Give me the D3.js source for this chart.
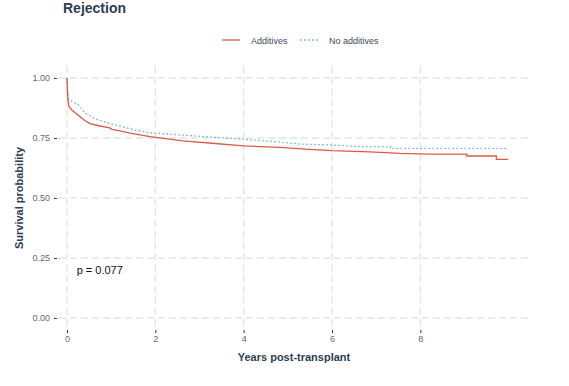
<!DOCTYPE html>
<html>
<head>
<meta charset="utf-8">
<script src="https://cdn.jsdelivr.net/npm/d3@7"></script>
<style>
  body { margin: 0; background: #fff; }
  svg { font-family: "Liberation Sans", Arial, sans-serif; }
</style>
</head>
<body>
<div class="chart"></div>
<script>
// survival curves: [years, probability]
const additives = [
    [0, 1.0], [0.01, 0.95], [0.02, 0.917], [0.045, 0.88], [0.11, 0.867], [0.25, 0.846],
    [0.39, 0.825], [0.52, 0.81], [0.75, 0.80], [0.97, 0.792], [1.02, 0.786], [1.2, 0.78],
    [1.43, 0.77], [1.88, 0.756], [2.63, 0.738], [3.35, 0.727], [4.0, 0.717], [4.82, 0.711],
    [5.4, 0.704], [6.0, 0.697], [6.86, 0.692], [7.54, 0.686], [8.2, 0.683], [9.05, 0.683],
    [9.05, 0.675], [9.72, 0.675], [9.72, 0.661], [9.99, 0.661]
];
const noAdditives = [
    [0, 1.0], [0.03, 0.915], [0.07, 0.908], [0.18, 0.896], [0.25, 0.89], [0.41, 0.854],
    [0.63, 0.83], [0.97, 0.81], [1.2, 0.80], [1.54, 0.783], [1.88, 0.772], [3.01, 0.757],
    [4.0, 0.745], [4.82, 0.733], [5.28, 0.725], [5.96, 0.721], [6.64, 0.714], [7.32, 0.714],
    [7.32, 0.707], [9.97, 0.707]
];
const seriesNames = ["Additives", "No additives"];
const xTicks = [0, 2, 4, 6, 8];
const yTicks = [0, 0.25, 0.5, 0.75, 1];
const pLabel = "p = 0.077";

const width = 569;
const height = 386;
const panelLeft = 59, panelRight = 529, panelTop = 66, panelBottom = 330;

const red = "#dc5a45";
const blue = "#5aaee0";
const ink = "#2c3e50";
const tickInk = "#5b6b7a";

const x = d3.scaleLinear().domain([-0.18, 10.46]).range([panelLeft, panelRight]);
const y = d3.scaleLinear().domain([-0.05, 1.05]).range([panelBottom, panelTop]);

const svg = d3.select(".chart").append("svg")
    .attr("width", width)
    .attr("height", height);

// grid
svg.append("g")
    .selectAll("line")
    .data(yTicks)
    .join("line")
    .attr("x1", panelLeft).attr("x2", panelRight)
    .attr("y1", d => y(d)).attr("y2", d => y(d))
    .attr("stroke", "#e3e3e3")
    .attr("stroke-width", 1.3)
    .attr("stroke-dasharray", "7,4");

svg.append("g")
    .selectAll("line")
    .data(xTicks)
    .join("line")
    .attr("x1", d => x(d)).attr("x2", d => x(d))
    .attr("y1", panelTop).attr("y2", panelBottom)
    .attr("stroke", "#e3e3e3")
    .attr("stroke-width", 1.3)
    .attr("stroke-dasharray", "7,4");

// axes
const xAxis = svg.append("g")
    .attr("transform", `translate(0,${panelBottom})`)
    .call(d3.axisBottom(x).tickValues(xTicks).tickFormat(d3.format("d")).tickSize(3).tickPadding(3));
xAxis.select(".domain").remove();
xAxis.selectAll("line").attr("stroke", "#333");
xAxis.selectAll("text").attr("fill", tickInk).style("font-size", "9px");

const yAxis = svg.append("g")
    .attr("transform", `translate(${panelLeft - 2},0)`)
    .call(d3.axisLeft(y).tickValues(yTicks).tickFormat(d3.format(".2f")).tickSize(3).tickPadding(4));
yAxis.select(".domain").remove();
yAxis.selectAll("line").attr("stroke", "#333");
yAxis.selectAll("text").attr("fill", tickInk).style("font-size", "9px");

// curves
const line = d3.line()
    .x(d => x(d[0]))
    .y(d => y(d[1]));

svg.append("path")
    .datum(noAdditives)
    .attr("fill", "none")
    .attr("stroke", blue)
    .attr("stroke-width", 1.3)
    .attr("stroke-dasharray", "1.5,2.5")
    .attr("d", line);

svg.append("path")
    .datum(additives)
    .attr("fill", "none")
    .attr("stroke", red)
    .attr("stroke-width", 1.3)
    .attr("d", line);

// p value
svg.append("text")
    .attr("x", x(0.22))
    .attr("y", y(0.2))
    .attr("dy", "0.35em")
    .attr("fill", "#111")
    .style("font-size", "11px")
    .text(pLabel);

// titles
svg.append("text")
    .attr("x", 63).attr("y", 13)
    .attr("fill", ink)
    .style("font-size", "14px")
    .style("font-weight", "bold")
    .text("Rejection");

svg.append("text")
    .attr("x", (panelLeft + panelRight) / 2).attr("y", 361)
    .attr("text-anchor", "middle")
    .attr("fill", ink)
    .style("font-size", "11px")
    .style("font-weight", "bold")
    .text("Years post-transplant");

svg.append("text")
    .attr("transform", `translate(23,${y(0.5)}) rotate(-90)`)
    .attr("text-anchor", "middle")
    .attr("fill", ink)
    .style("font-size", "11px")
    .style("font-weight", "bold")
    .text("Survival probability");

// legend
const legend = svg.append("g");
const legendX = [222, 300];
const legendColors = [red, blue];
const legendDash = [null, "1.5,2.5"];
seriesNames.forEach((name, i) => {
    legend.append("line")
        .attr("x1", legendX[i]).attr("x2", legendX[i] + 18)
        .attr("y1", 40).attr("y2", 40)
        .attr("stroke", legendColors[i])
        .attr("stroke-width", 1.3)
        .attr("stroke-dasharray", legendDash[i]);
    legend.append("text")
        .attr("x", legendX[i] + 29).attr("y", 43.5)
        .attr("fill", "#3d4a57")
        .style("font-size", "9px")
        .text(name);
});
</script>
</body>
</html>
